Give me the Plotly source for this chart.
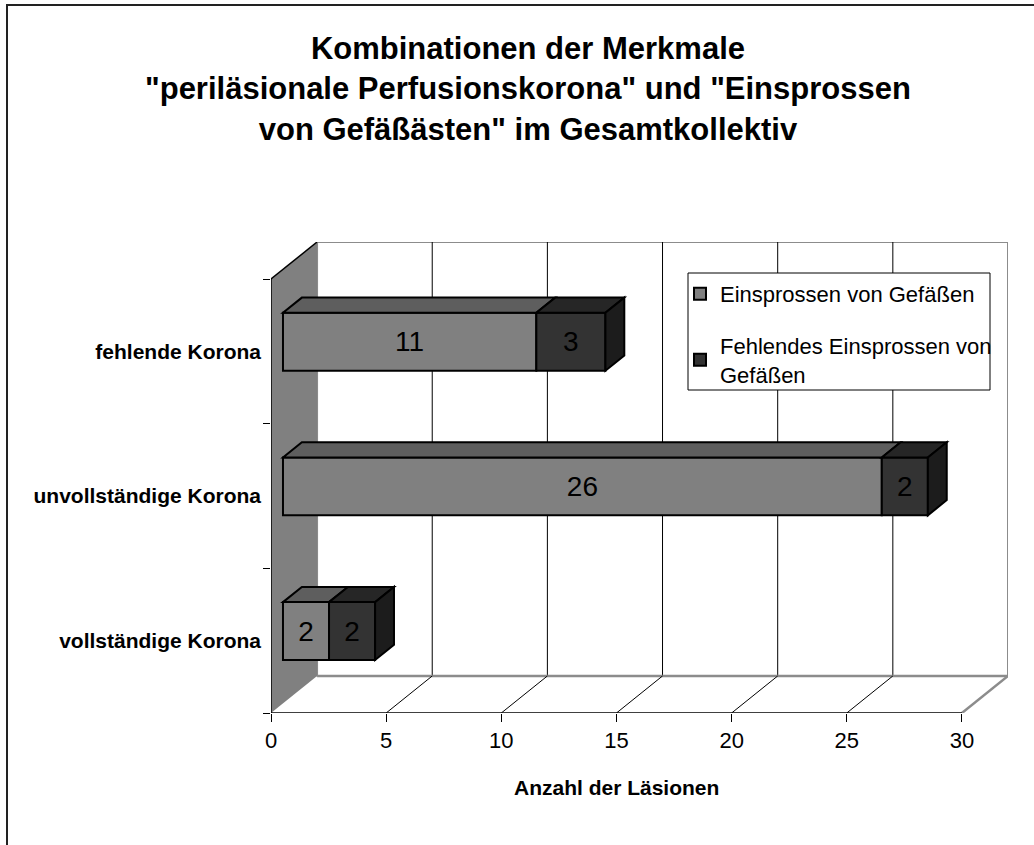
import plotly.graph_objects as go

# Data
categories = ["vollständige Korona", "unvollständige Korona", "fehlende Korona"]
einsprossen = [2, 26, 11]
fehlendes = [2, 2, 3]
series_names = ["Einsprossen von Gefäßen", "Fehlendes Einsprossen von<br>Gefäßen"]
x_ticks = [0, 5, 10, 15, 20, 25, 30]

# 3D projection settings (depth offset in data units)
DEPTH_X = 2.0
DEPTH_Y = 0.256
FRONT = 0.26      # fraction of depth where bar front face sits
BACK = 0.67       # fraction of depth where bar back face sits
BAR_W = 0.4
X_MAX = 30
Y_LO, Y_HI = -0.5, len(categories) - 0.5

FONT = "Liberation Sans, Arial, sans-serif"
FRONT_COL = ["#808080", "#333333"]
TOP_COL = ["#5e5e5e", "#262626"]
SIDE_COL = ["#1c1c1c", "#1c1c1c"]
EDGE = "#000000"
WALL_EDGE = "#8c8c8c"

# Pixel geometry of the plot area (used for paper-coordinate placement)
PLOT_L, PLOT_W = 271, 737
PLOT_B, PLOT_H = 713, 471


def px_x(p):
    return (p - PLOT_L) / PLOT_W


def px_y(p):
    return (PLOT_B - p) / PLOT_H


def proj(x, y, d):
    """Shift a front-plane point back by depth fraction d."""
    return x + d * DEPTH_X, y + d * DEPTH_Y


def path(points):
    return "M " + " L ".join(f"{px:.4f},{py:.4f}" for px, py in points) + " Z"


fig = go.Figure()
shapes = []

# Back wall
bx0, by0 = proj(0, Y_LO, 1)
shapes.append(dict(type="rect", xref="x", yref="y", x0=bx0, y0=by0,
                   x1=X_MAX + DEPTH_X, y1=Y_HI + DEPTH_Y,
                   fillcolor="white", line=dict(color=WALL_EDGE, width=2),
                   layer="below"))
# Gridlines on the back wall
for v in x_ticks[1:-1]:
    gx, gy = proj(v, Y_LO, 1)
    shapes.append(dict(type="line", xref="x", yref="y", x0=gx, y0=gy,
                       x1=gx, y1=Y_HI + DEPTH_Y,
                       line=dict(color="#000000", width=1), layer="below"))
# Floor
floor_pts = [(0, Y_LO), proj(0, Y_LO, 1), proj(X_MAX, Y_LO, 1), (X_MAX, Y_LO)]
shapes.append(dict(type="path", xref="x", yref="y", path=path(floor_pts),
                   fillcolor="white", line=dict(width=0), layer="below"))
# Floor back edge and right edge
shapes.append(dict(type="line", xref="x", yref="y",
                   x0=proj(0, Y_LO, 1)[0], y0=proj(0, Y_LO, 1)[1],
                   x1=proj(X_MAX, Y_LO, 1)[0], y1=proj(X_MAX, Y_LO, 1)[1],
                   line=dict(color=WALL_EDGE, width=2.5), layer="below"))
shapes.append(dict(type="line", xref="x", yref="y", x0=X_MAX, y0=Y_LO,
                   x1=proj(X_MAX, Y_LO, 1)[0], y1=proj(X_MAX, Y_LO, 1)[1],
                   line=dict(color=WALL_EDGE, width=2.5), layer="below"))
# Floor gridlines
for v in x_ticks[1:-1]:
    fx, fy = proj(v, Y_LO, 1)
    shapes.append(dict(type="line", xref="x", yref="y", x0=v, y0=Y_LO,
                       x1=fx, y1=fy, line=dict(color="#000000", width=1),
                       layer="below"))
# Side wall
side_pts = [(0, Y_LO), (0, Y_HI), proj(0, Y_HI, 1), proj(0, Y_LO, 1)]
shapes.append(dict(type="path", xref="x", yref="y", path=path(side_pts),
                   fillcolor="#808080", line=dict(width=0), layer="below"))
shapes.append(dict(type="line", xref="x", yref="y", x0=0, y0=Y_LO, x1=0,
                   y1=Y_HI, line=dict(color="#000000", width=1.5), layer="below"))
shapes.append(dict(type="line", xref="x", yref="y", x0=0, y0=Y_HI,
                   x1=proj(0, Y_HI, 1)[0], y1=proj(0, Y_HI, 1)[1],
                   line=dict(color="#000000", width=1.5), layer="below"))
# Front value axis line
shapes.append(dict(type="line", xref="x", yref="y", x0=0, y0=Y_LO, x1=X_MAX,
                   y1=Y_LO, line=dict(color="#000000", width=1.5), layer="above"))

# Bars: front faces as bar traces, top / side faces as shapes
y_pos = list(range(len(categories)))
series = [einsprossen, fehlendes]
starts = [[0] * len(categories), list(einsprossen)]
fx_off, fy_off = proj(0, 0, FRONT)

for s, (vals, base, name) in enumerate(zip(series, starts, series_names)):
    fig.add_trace(go.Bar(
        orientation="h",
        y=[y + fy_off for y in y_pos],
        x=vals,
        base=[b + fx_off for b in base],
        width=BAR_W,
        name=name,
        legendgroup=f"g{s}",
        marker=dict(color=FRONT_COL[s], line=dict(color=EDGE, width=2)),
        text=[str(v) for v in vals],
        textposition="inside",
        insidetextanchor="middle",
        textangle=0,
        constraintext="none",
        insidetextfont=dict(family=FONT, size=28, color="#000000"),
        hoverinfo="skip",
    ))
    for i, y in enumerate(y_pos):
        x0 = base[i]
        x1 = base[i] + vals[i]
        top = y + BAR_W / 2
        bot = y - BAR_W / 2
        top_face = [proj(x0, top, FRONT), proj(x1, top, FRONT),
                    proj(x1, top, BACK), proj(x0, top, BACK)]
        shapes.append(dict(type="path", xref="x", yref="y", path=path(top_face),
                           fillcolor=TOP_COL[s], line=dict(color=EDGE, width=2),
                           layer="above"))
        if s == len(series) - 1:
            side_face = [proj(x1, bot, FRONT), proj(x1, top, FRONT),
                         proj(x1, top, BACK), proj(x1, bot, BACK)]
            shapes.append(dict(type="path", xref="x", yref="y",
                               path=path(side_face), fillcolor=SIDE_COL[s],
                               line=dict(color=EDGE, width=2), layer="above"))

# Legend box
shapes.append(dict(type="rect", xref="paper", yref="paper",
                   x0=px_x(688), x1=px_x(990), y0=px_y(390), y1=px_y(273),
                   fillcolor="white", line=dict(color="#000000", width=1),
                   layer="above"))

# Outer chart frame
shapes.append(dict(type="rect", xref="paper", yref="paper",
                   x0=px_x(7), y0=-0.6, x1=1.3, y1=px_y(5),
                   line=dict(color="#222222", width=2), fillcolor="rgba(0,0,0,0)",
                   layer="below"))

title_lines = ["Kombinationen der Merkmale",
               "\"periläsionale Perfusionskorona\" und \"Einsprossen",
               "von Gefäßästen\" im Gesamtkollektiv"]
annotations = [
    dict(text="<br>".join(f"<b>{t}</b>" for t in title_lines),
         xref="paper", yref="paper", x=px_x(528), y=px_y(89),
         xanchor="center", yanchor="middle", showarrow=False,
         font=dict(family=FONT, size=31, color="#000000"), align="center"),
    dict(text="<b>Anzahl der Läsionen</b>", xref="x", yref="paper",
         x=X_MAX / 2, y=px_y(787), xanchor="center", yanchor="middle",
         showarrow=False, font=dict(family=FONT, size=21, color="#000000")),
]

fig.update_layout(
    width=1034, height=845, autosize=False,
    margin=dict(l=PLOT_L, r=1034 - PLOT_L - PLOT_W, t=PLOT_B - PLOT_H,
                b=845 - PLOT_B, pad=0),
    paper_bgcolor="white", plot_bgcolor="rgba(0,0,0,0)",
    barmode="overlay",
    shapes=shapes,
    annotations=annotations,
    showlegend=True,
    legend=dict(x=px_x(680), y=px_y(273), xanchor="left",
                yanchor="top", bgcolor="rgba(0,0,0,0)",
                borderwidth=0, traceorder="grouped", tracegroupgap=20,
                font=dict(family=FONT, size=22, color="#000000"),
                itemwidth=30),
    font=dict(family=FONT, color="#000000"),
)
fig.update_xaxes(range=[0, X_MAX + DEPTH_X], tickvals=x_ticks,
                 ticktext=[str(v) for v in x_ticks], ticks="outside",
                 ticklen=8, tickwidth=1, tickcolor="#000000",
                 showgrid=False, zeroline=False, showline=False,
                 tickfont=dict(family=FONT, size=22, color="#000000"))
fig.update_yaxes(range=[Y_LO, Y_HI + DEPTH_Y], tickvals=y_pos,
                 ticktext=[f"<b>{c}</b>" for c in categories], ticks="",
                 ticklabelstandoff=9,
                 minor=dict(tickvals=[Y_LO + k for k in range(len(categories) + 1)],
                            ticks="outside", ticklen=7, tickcolor="#000000",
                            tickwidth=1, showgrid=False),
                 showgrid=False, zeroline=False, showline=False,
                 tickfont=dict(family=FONT, size=21, color="#000000"))

fig.write_html("out.html")
